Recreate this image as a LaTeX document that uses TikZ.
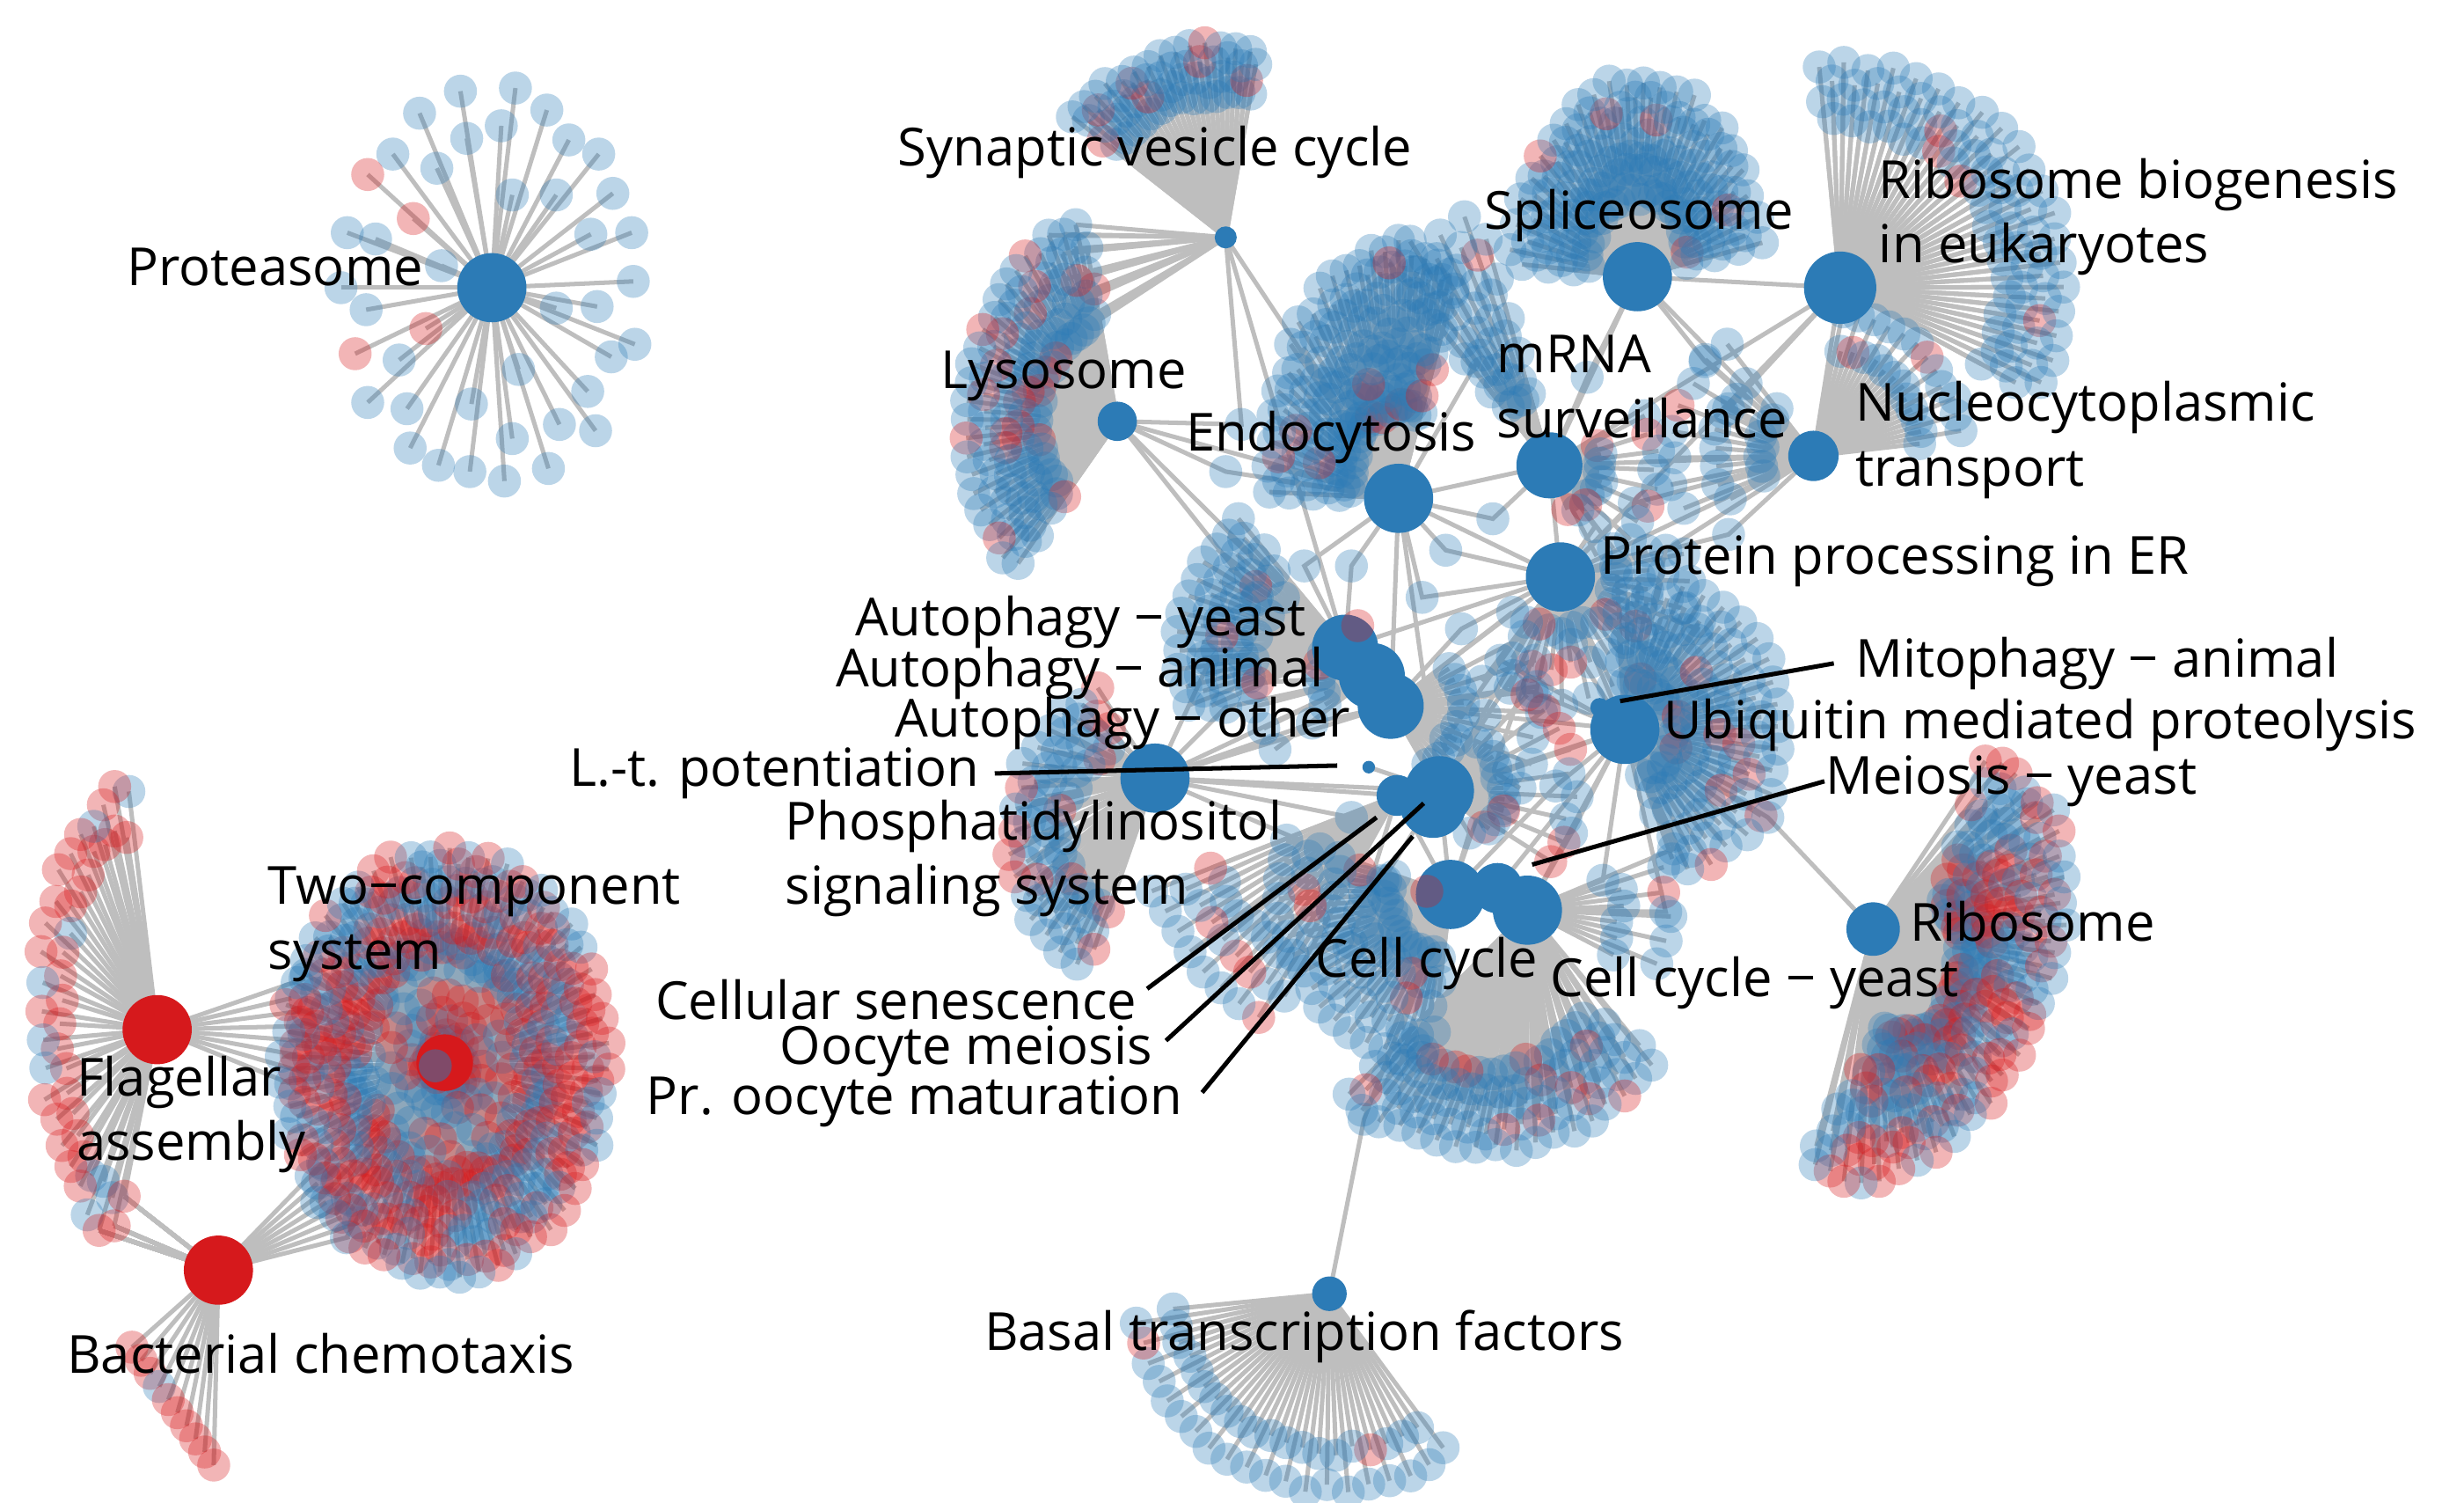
\documentclass[tikz,border=0pt]{standalone}
\usepackage{fontspec}
\setmainfont{Open Sans}
\usetikzlibrary{calc}
\definecolor{hubblue}{RGB}{44,123,182}
\definecolor{hubred}{RGB}{214,25,28}
\definecolor{linkgray}{RGB}{190,190,190}
\pgfdeclarelayer{front}
\pgfsetlayers{main,front}
\newif\ifleafpass
\newcommand\yscl{1}
\newcommand\rot{0}
\newcommand\redshare{0.1}
% leaves on elliptic rows round a centre, each linked to its hub
\newcommand\leaffan[9]{%
  \foreach \j in {1,...,#8}{%
    \foreach \k in {1,...,#9}{%
      \ifleafpass
        \pgfmathtruncatemacro\isred{rnd<\redshare ? 1 : 0}%
        \ifnum\isred=1 \def\leafcol{hubred}\else\def\leafcol{hubblue}\fi
        \node[leaf,fill=\leafcol] (#1-\j-\k) at (#1-\j-\k) {};
      \else
        \pgfmathsetmacro\ang{#4+(#5-#4)/#9*(\k-0.75+0.5*mod(\j,2))}%
        \pgfmathsetmacro\rad{#6+(#7-#6)*(\j-1)/max(#8-1,1)+3*rand}%
        \pgfmathsetmacro\lu{\rad*cos(\ang)}%
        \pgfmathsetmacro\lv{\yscl*\rad*sin(\ang)}%
        \coordinate (#1-\j-\k) at ($(#3)+({\lu*cos(\rot)-\lv*sin(\rot)},{\lu*sin(\rot)+\lv*cos(\rot)})$);
        \draw[link] (#2.center) -- (#1-\j-\k);
      \fi
    }}}
\newcommand\allfans{%
  \foreach \px/\py [count=\i] in {293/58,328/56,267/72,348/70,319/80,297/88,250/98,362/89,381/98,278/107,326/124,354/124,390/123,221/148,239/152,376/149,402/148,281/169,217/183,403/179,233/197,354/196,380/195,404/219,389/227,254/229,330/235,234/256,259/260,300/257,374/249,326/279,356/270,379/274,261/285,279/296,299/300,321/306,349/298}{
    \ifleafpass\node[leaf,fill=hubblue] (pb\i) at (pb\i) {};
    \else\coordinate (pb\i) at (\px,\py); \draw[link] (prot.center) -- (pb\i);\fi
  }
  \foreach \px/\py [count=\i] in {234/111,263/139,271/209,226/225}{
    \ifleafpass\node[leaf,fill=hubred] (pr\i) at (pr\i) {};
    \else\coordinate (pr\i) at (\px,\py); \draw[link] (prot.center) -- (pr\i);\fi
  }
  \renewcommand\yscl{2.2}\renewcommand\redshare{0.8}
  \leaffan{fl}{F}{92,645}{-97}{-258}{55}{66}{2}{22}
  \renewcommand\yscl{1}\renewcommand\redshare{0.5}
  \leaffan{fw}{F}{F}{-22}{25}{90}{100}{2}{4}
  \leaffan{cw}{C}{C}{-48}{-12}{84}{96}{2}{4}
  \foreach \t/\c in {0/hubred,1/hubred,2/hubred,3/hubblue,4/hubred,5/hubred,6/hubred,7/hubred,8/hubred,9/hubred}{
    \ifleafpass\node[leaf,fill=\c] (ch\t) at (ch\t) {};
    \else
      \pgfmathsetmacro\f{\t/9}
      \coordinate (ch\t) at ($(84,857)!\f!(136,932)$);
      \draw[link] (C.center) -- (ch\t);
      \draw[link] (C.center) -- (fl-1-22) (C.center) -- (fl-2-22) (C.center) -- (fl-2-21);
    \fi
  }
  \renewcommand\yscl{1.31}
  \leaffan{tci}{T}{T}{0}{360}{12}{46}{4}{22}
  \leaffan{tco}{T}{T}{0}{360}{54}{103}{8}{52}
  \renewcommand\yscl{1}\renewcommand\redshare{0.12}
  \leaffan{sv}{syn}{syn}{-143}{-79}{92}{122}{4}{14}
  \renewcommand\yscl{1.35}\renewcommand\redshare{0.12}
  \leaffan{ly}{lyso}{lyso}{-102}{-228}{50}{95}{5}{24}
  \ifleafpass\else
    \foreach \j in {1,...,5}{\foreach \k in {1,2,3}{\draw[link] (syn.center) -- (ly-\j-\k);}}
  \fi
  \renewcommand\yscl{1.9}\renewcommand\redshare{0.08}
  \leaffan{en}{endo}{endo}{-180}{-62}{30}{84}{8}{20}
  \renewcommand\yscl{1.55}\renewcommand\redshare{0.03}
  \leaffan{sp}{splice}{splice}{-178}{-8}{34}{80}{7}{22}
  \renewcommand\yscl{1}\renewcommand\redshare{0.04}
  \leaffan{rb}{ribobio}{ribobio}{-97}{30}{105}{142}{4}{20}
  \renewcommand\redshare{0.1}
  \leaffan{nc}{nucleo}{nucleo}{-80}{-5}{70}{95}{2}{12}
  \leaffan{nd}{nucleo}{nucleo}{150}{235}{35}{90}{3}{8}
  \renewcommand\redshare{0.08}
  \leaffan{mr}{mrna}{mrna}{-130}{-104}{45}{165}{10}{4}
  \renewcommand\redshare{0.15}
  \leaffan{ms}{mrna}{mrna}{-30}{70}{32}{68}{2}{10}
  \leaffan{ep}{er}{er}{-20}{130}{35}{80}{3}{12}
  \renewcommand\redshare{0.1}
  \leaffan{ub}{ubi}{ubi}{-95}{72}{32}{100}{6}{20}
  \renewcommand\redshare{0.12}
  \leaffan{ay}{autoy}{autoy}{-128}{-205}{66}{105}{4}{12}
  \leaffan{aa}{autoa}{autoa}{140}{230}{35}{75}{2}{8}
  \leaffan{ao}{autoo}{autoo}{-40}{60}{45}{95}{2}{10}
  \renewcommand\yscl{1.15}
  \leaffan{ph}{phos}{725,530}{-106}{-248}{50}{82}{4}{16}
  \renewcommand\yscl{1}
  \leaffan{se}{sen}{sen}{118}{160}{125}{165}{3}{8}
  \renewcommand\redshare{0.08}
  \leaffan{cl}{cc}{cc}{95}{200}{40}{108}{5}{16}
  \renewcommand\redshare{0.12}
  \leaffan{cy}{ccy}{945,605}{30}{135}{76}{126}{5}{18}
  \leaffan{cz}{ccy}{ccy}{-20}{30}{60}{90}{2}{5}
  \renewcommand\redshare{0.15}
  \leaffan{oo}{oom}{oom}{-60}{40}{40}{85}{2}{10}
  \renewcommand\yscl{1.7}\renewcommand\rot{24}\renewcommand\redshare{0.42}
  \leaffan{ri}{ribo}{1220,618}{-102}{102}{26}{82}{8}{28}
  \renewcommand\yscl{1}\renewcommand\rot{0}\renewcommand\redshare{0.06}
  \leaffan{bt}{basal}{basal}{52}{176}{100}{124}{2}{20}
  \foreach \px/\py/\a/\b [count=\i] in {905/380/endo/er,930/400/er/autoo,955/420/er/ubi,975/440/ubi/autoo,945/455/autoo/ubi,
      920/470/oom/er,960/490/ubi/oom,990/500/ubi/cc,1000/530/ccy/ubi,935/530/cc/autoo,860/520/sen/phos,840/540/phos/cc,
      830/360/endo/autoy,800/380/autoy/lyso,860/360/endo/autoy,920/350/endo/er,950/330/mrna/endo,1015/335/mrna/er,
      1040/320/er/nucleo,1060/350/ubi/nucleo,1080/400/ubi/er,1100/340/nucleo/er,1000/410/er/ubi,1030/400/ubi/er,
      1125/520/ubi/ribo,1065/540/ubi/ccy,1020/560/ccy/ubi,880/560/cc/oom,860/600/cc/sen,780/450/phos/autoa,
      770/420/autoy/phos,1085/230/nucleo/splice,1100/260/nucleo/ribobio,1010/240/mrna/splice,940/230/mrna/endo,
      790/270/lyso/syn,780/300/lyso/endo,835/460/autoo/phos,1060/580/ccy/ubi,868/712/cc/basal}{
    \ifleafpass\node[leaf,fill=hubblue] (mid\i) at (mid\i) {};
    \else\coordinate (mid\i) at (\px,\py); \draw[link] (\a.center) -- (mid\i) -- (\b.center);\fi
  }}

\begin{document}
\begin{tikzpicture}[x=0.01cm,y=-0.01cm,
  leaf/.style={circle,inner sep=0pt,minimum size=0.21cm,fill opacity=0.32},
  hub/.style={circle,inner sep=0pt,fill=hubblue,minimum size=#1},
  redhub/.style={hub=#1,fill=hubred},
  link/.style={draw=linkgray,line width=0.8pt},
  lead/.style={line width=0.8pt},
  lbl/.style={inner sep=0pt,font=\fontsize{9.5}{11.7}\selectfont}]
  \useasboundingbox (0,0) rectangle (1568,956);
  \pgfmathsetseed{3}

  \begin{pgfonlayer}{front}
  \node[hub=0.44cm] (prot) at (313,183) {};
  \node[redhub=0.44cm] (F) at (100,655) {};
  \node[redhub=0.44cm] (C) at (139,808) {};
  \node[redhub=0.36cm] (T) at (283,676) {};
  \node[hub=0.14cm] (syn) at (780,151) {};
  \node[hub=0.25cm] (lyso) at (711,268) {};
  \node[hub=0.44cm] (endo) at (890,317) {};
  \node[hub=0.44cm] (splice) at (1042,176) {};
  \node[hub=0.46cm] (ribobio) at (1171,183) {};
  \node[hub=0.42cm] (mrna) at (986,296) {};
  \node[hub=0.32cm] (nucleo) at (1154,290) {};
  \node[hub=0.44cm] (er) at (993,367) {};
  \node[hub=0.42cm] (autoy) at (856,412) {};
  \node[hub=0.42cm] (autoa) at (873,430) {};
  \node[hub=0.42cm] (autoo) at (885,449) {};
  \node[hub=0.44cm] (phos) at (735,495) {};
  \node[hub=0.08cm] (ltp) at (871,488) {};
  \node[hub=0.26cm] (sen) at (889,506) {};
  \node[hub=0.42cm] (pom) at (912,512) {};
  \node[hub=0.44cm] (oom) at (916,503) {};
  \node[hub=0.12cm] (mito) at (1018,450) {};
  \node[hub=0.44cm] (ubi) at (1034,464) {};
  \node[hub=0.44cm] (cc) at (923,569) {};
  \node[hub=0.32cm] (meio) at (953,565) {};
  \node[hub=0.44cm] (ccy) at (972,579) {};
  \node[hub=0.34cm] (ribo) at (1192,591) {};
  \node[hub=0.22cm] (basal) at (846,823) {};
  \end{pgfonlayer}

  \foreach \a/\b in {lyso/endo,lyso/autoy,syn/endo,syn/autoy,endo/er,endo/autoo,endo/mrna,splice/mrna,splice/ribobio,
      splice/nucleo,ribobio/nucleo,ribobio/mrna,ribobio/er,nucleo/mrna,nucleo/er,mrna/er,er/ubi,er/autoo,er/oom,
      autoy/er,autoo/oom,autoa/phos,phos/oom,phos/sen,phos/autoo,oom/cc,oom/ubi,ubi/ccy,cc/ccy,meio/ubi,mito/ubi,
      ltp/oom,endo/oom,sen/cc,er/cc}
    \draw[link] (\a.center) -- (\b.center);
  \leafpassfalse\allfans
  \leafpasstrue\allfans

  \begin{pgfonlayer}{front}
  \node[leaf,fill=hubblue,fill opacity=0.5] (tcov) at (277,678) {};
  \node[leaf,fill=hubred] (ccov) at (908,567) {};
  \node[leaf,fill=hubred] (ayov) at (864,398) {};

  \node[lbl,anchor=east] (lprot) at (270,170) {Proteasome};
  \node[lbl] (lsyn) at (735,97) {Synaptic vesicle cycle};
  \node[lbl] (lsplice) at (1043,137) {Spliceosome};
  \node[lbl,anchor=west,align=left] (lribobio) at (1195,138) {Ribosome biogenesis\\in eukaryotes};
  \node[lbl] (llyso) at (677,239) {Lysosome};
  \node[lbl,anchor=west,align=left] (lmrna) at (952,246) {mRNA\\surveillance};
  \node[lbl] (lendo) at (847,278) {Endocytosis};
  \node[lbl,anchor=west,align=left] (lnucleo) at (1180,280) {Nucleocytoplasmic\\transport};
  \node[lbl,anchor=west] (ler) at (1018,357) {Protein processing in ER};
  \node[lbl,anchor=east] (lautoy) at (832,396) {Autophagy − yeast};
  \node[lbl,anchor=east] (lautoa) at (843,428) {Autophagy − animal};
  \node[lbl,anchor=east] (lautoo) at (860,460) {Autophagy − other};
  \node[lbl,anchor=west] (lmito) at (1180,422) {Mitophagy − animal};
  \node[lbl,anchor=west] (lubi) at (1058,461) {Ubiquitin mediated proteolysis};
  \node[lbl,anchor=east] (lltp) at (624,492) {L.-t. potentiation};
  \node[lbl,anchor=west] (lmeio) at (1161,497) {Meiosis − yeast};
  \node[lbl,anchor=west,align=left] (lphos) at (499,546) {Phosphatidylinositol\\signaling system};
  \node[lbl,anchor=west,align=left] (ltwo) at (170,588) {Two−component\\system};
  \node[lbl,anchor=west] (lribo) at (1215,586) {Ribosome};
  \node[lbl] (lcc) at (908,613) {Cell cycle};
  \node[lbl,anchor=west] (lccy) at (986,625) {Cell cycle − yeast};
  \node[lbl,anchor=east] (lsen) at (724,636) {Cellular senescence};
  \node[lbl,anchor=east] (loom) at (734,669) {Oocyte meiosis};
  \node[lbl,anchor=east] (lpom) at (753,701) {Pr. oocyte maturation};
  \node[lbl,anchor=west,align=left] (lflag) at (48,709) {Flagellar\\assembly};
  \node[lbl,anchor=west] (lchemo) at (42,861) {Bacterial chemotaxis};
  \node[lbl] (lbasal) at (830,850) {Basal transcription factors};

  \coordinate (ltptip) at (851,487);
  \coordinate (mitotip) at (1031,446);
  \coordinate (meiotip) at (975,550);
  \coordinate (sentip) at (876,520);
  \coordinate (oomtip) at (906,511);
  \coordinate (pomtip) at (899,532);
  \draw[lead] ([xshift=0.09cm]lltp.east) -- (ltptip);
  \draw[lead] ([xshift=-0.13cm]lmito.west) -- (mitotip);
  \draw[lead] (lmeio.west) -- (meiotip);
  \draw[lead] ([xshift=0.06cm,yshift=0.07cm]lsen.east) -- (sentip);
  \draw[lead] ([xshift=0.08cm,yshift=0.07cm]loom.east) -- (oomtip);
  \draw[lead] ([xshift=0.12cm,yshift=0.06cm]lpom.east) -- (pomtip);
  \end{pgfonlayer}
\end{tikzpicture}
\end{document}
